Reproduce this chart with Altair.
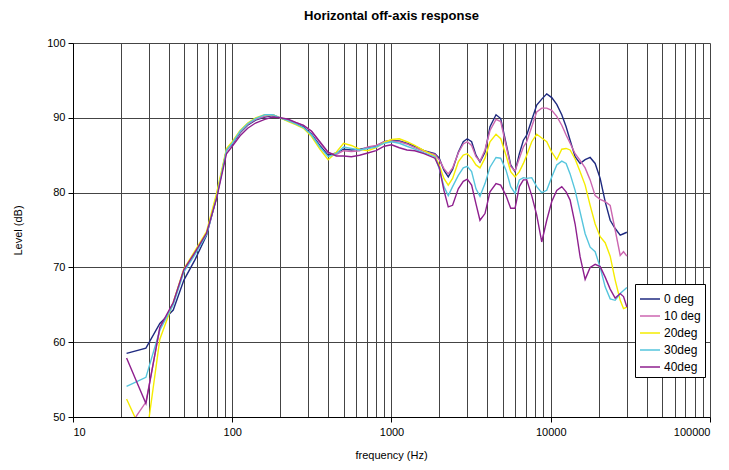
import altair as alt
import pandas as pd

FREQ = [21.7, 28.7, 35.1, 42.6, 49.7, 58.3, 69, 79.7, 92,
        100, 112, 125, 140, 160, 180, 200, 225, 250, 280, 315, 355, 400, 450, 500,
        560, 630, 710, 800, 900, 1000, 1120, 1250, 1400, 1600,
        1873, 1994, 2134, 2272, 2419, 2627, 2823, 2991, 3185, 3392, 3594, 3864,
        4154, 4532, 4850, 5238, 5604, 5967, 6353, 6732, 7067, 7596, 8164, 8778,
        9437, 10146, 10907, 11727, 12487, 13230, 14223, 15294, 16442, 17677,
        19004, 20430, 21965, 23615, 25383, 27300, 28640, 30060]

DEG0 = [58.5, 59.2, 62.5, 64.3, 68.3, 71.0, 74.3, 79.4, 85.7,
        86.5, 88.0, 89.0, 89.7, 90.1, 90.3, 90.0, 89.6, 89.2, 88.8, 87.8, 86.3, 85.0, 85.3, 85.8,
        85.7, 85.8, 86.0, 86.2, 86.8, 87.0, 86.9, 86.6, 86.2, 85.6,
        85.2, 84.6, 83.0, 82.1, 83.1, 85.4, 86.8, 87.2, 86.8, 85.0, 84.1, 85.4,
        88.8, 90.4, 89.9, 86.6, 83.7, 82.8, 85.2, 87.0, 87.7, 89.7, 91.7, 92.5,
        93.2, 92.7, 91.8, 90.4, 88.8, 87.0, 84.8, 83.9, 84.4, 84.7,
        83.9, 81.9, 78.8, 76.3, 75.2, 74.3, 74.5, 74.7]

DEG10 = [48.2, 52.0, 61.8, 65.2, 69.6, 71.9, 74.5, 79.6, 85.6,
         86.6, 88.1, 89.1, 89.8, 90.2, 90.4, 90.0, 89.7, 89.4, 89.0, 88.2, 86.7, 85.3, 85.1, 85.6,
         85.5, 85.6, 86.1, 86.3, 86.8, 86.9, 86.8, 86.5, 86.0, 85.5,
         85.1, 84.4, 83.2, 82.5, 83.3, 85.3, 86.5, 86.8, 86.3, 84.8, 84.2, 85.7,
         88.3, 89.8, 89.5, 86.3, 83.5, 82.9, 84.6, 86.1, 86.8, 88.8, 90.8, 91.3,
         91.3, 91.0, 90.2, 89.0, 87.7, 86.6, 85.2, 84.3, 83.3, 81.7,
         79.6, 79.1, 78.8, 78.3, 75.0, 71.6, 72.1, 71.5]

DEG20 = [52.4, 46.8, 60.4, 65.3, 69.8, 72.2, 74.8, 79.9, 85.9,
         86.8, 88.3, 89.3, 90.0, 90.4, 90.4, 90.0, 89.5, 89.1, 88.6, 87.5, 85.8, 84.4, 85.4, 86.6,
         86.3, 85.8, 85.6, 86.0, 86.7, 87.1, 87.2, 86.8, 86.3, 85.6,
         84.9, 83.7, 81.9, 81.0, 81.9, 84.1, 85.0, 85.2, 84.6, 83.7, 83.3, 84.6,
         86.8, 87.8, 87.2, 85.0, 82.8, 82.1, 82.8, 83.9, 85.0, 86.8, 87.8, 87.3,
         86.8, 85.4, 84.4, 85.8, 85.9, 85.7, 84.5, 82.8, 81.0, 78.3,
         75.8, 74.1, 73.3, 71.5, 68.3, 65.6, 64.5, 64.7]

DEG30 = [54.1, 55.3, 61.6, 65.0, 69.4, 71.7, 74.4, 79.3, 85.7,
         86.6, 88.2, 89.2, 89.9, 90.4, 90.4, 90.0, 89.6, 89.2, 88.7, 87.7, 86.1, 84.8, 85.2, 86.1,
         85.9, 85.7, 85.9, 86.1, 86.6, 86.8, 86.6, 86.2, 85.8, 85.3,
         84.8, 83.2, 80.8, 79.6, 80.8, 82.3, 83.3, 83.5, 82.8, 80.5, 79.5, 81.2,
         83.4, 84.7, 84.6, 83.0, 80.8, 79.9, 81.7, 82.0, 81.9, 82.0, 80.8, 80.0,
         80.3, 82.1, 83.7, 84.2, 83.9, 82.5, 80.3, 77.4, 74.5, 72.7,
         72.1, 70.0, 67.4, 65.8, 65.6, 66.5, 66.9, 67.3]

DEG40 = [57.9, 51.8, 62.0, 65.3, 69.7, 72.0, 74.6, 79.2, 85.2,
         86.2, 87.6, 88.6, 89.3, 89.8, 90.1, 90.0, 89.8, 89.4, 89.0, 88.2, 86.8, 85.4, 84.9, 84.9,
         84.8, 85.0, 85.3, 85.6, 86.2, 86.4, 86.0, 85.7, 85.6, 85.2,
         84.6, 83.4, 80.3, 78.1, 78.3, 80.5, 81.5, 81.8, 81.0, 78.5, 76.3, 77.2,
         80.1, 81.2, 81.0, 79.6, 77.9, 77.9, 80.8, 81.7, 81.7, 79.6, 77.0, 73.4,
         76.3, 78.8, 80.3, 80.8, 80.1, 79.0, 75.8, 71.4, 68.4, 70.0,
         70.4, 70.1, 68.7, 67.1, 65.9, 66.5, 66.1, 64.7]

SERIES = ["0 deg", "10 deg", "20deg", "30deg", "40deg"]
COLORS = ["#1f2a80", "#cc66b0", "#f5ec00", "#55c5dd", "#8e1f8e"]
X_TICKS = [10, 20, 30, 40, 50, 60, 70, 80, 90,
           100, 200, 300, 400, 500, 600, 700, 800, 900,
           1000, 2000, 3000, 4000, 5000, 6000, 7000, 8000, 9000,
           10000, 20000, 30000, 40000, 50000, 60000, 70000, 80000, 90000, 100000]
Y_TICKS = [50, 60, 70, 80, 90, 100]

rows = []
for name, vals in zip(SERIES, [DEG0, DEG10, DEG20, DEG30, DEG40]):
    for f, v in zip(FREQ, vals):
        rows.append({"freq": f, "level": v, "series": name})
df = pd.DataFrame(rows)

FONT = "Liberation Sans"
decade_test = "indexof([10,100,1000,10000,100000], datum.value) >= 0"

chart = alt.Chart(df).mark_line(clip=True, strokeWidth=1.4).encode(
    x=alt.X("freq:Q",
            scale=alt.Scale(type="log", domain=[10, 100000], nice=False),
            axis=alt.Axis(values=X_TICKS, title="frequency (Hz)",
                          labelExpr=f"{decade_test} ? format(datum.value, 'd') : ''",
                          tickOpacity={"condition": {"test": decade_test, "value": 1}, "value": 0},
                          grid=True, tickSize=5, labelPadding=4,
                          titleX=318, titleY=38, titleBaseline="middle")),
    y=alt.Y("level:Q",
            scale=alt.Scale(domain=[50, 100], nice=False, zero=False),
            axis=alt.Axis(values=Y_TICKS, title="Level (dB)", grid=True, tickSize=5,
                          labelPadding=3, titleX=-55, titleY=187, titleBaseline="middle")),
    color=alt.Color("series:N",
                    scale=alt.Scale(domain=SERIES, range=COLORS),
                    legend=alt.Legend(title=None, orient="none", legendX=562, legendY=241,
                                      fillColor="white", strokeColor="black", padding=4,
                                      symbolType="stroke", symbolSize=400, symbolStrokeWidth=1.5,
                                      labelFontSize=12, labelFont=FONT, rowPadding=0,
                                      labelOffset=3)),
).properties(
    width=637,
    height=374,
    title=alt.TitleParams("Horizontal off-axis response", fontSize=13, fontWeight="bold",
                          font=FONT, anchor="middle", frame="group", offset=14, color="black"),
    autosize=alt.AutoSizeParams(type="none"),
    padding={"left": 65, "top": 35, "right": 11, "bottom": 45},
).configure_view(stroke=None).configure_axis(
    labelFont=FONT, titleFont=FONT, labelFontSize=11, titleFontSize=11,
    titleFontWeight="normal", labelColor="black", titleColor="black",
    gridColor="#444444", gridWidth=1, gridOpacity=1,
    domainColor="black", tickColor="black",
)

chart.save("out.html", embed_options={"renderer": "svg", "actions": False})
